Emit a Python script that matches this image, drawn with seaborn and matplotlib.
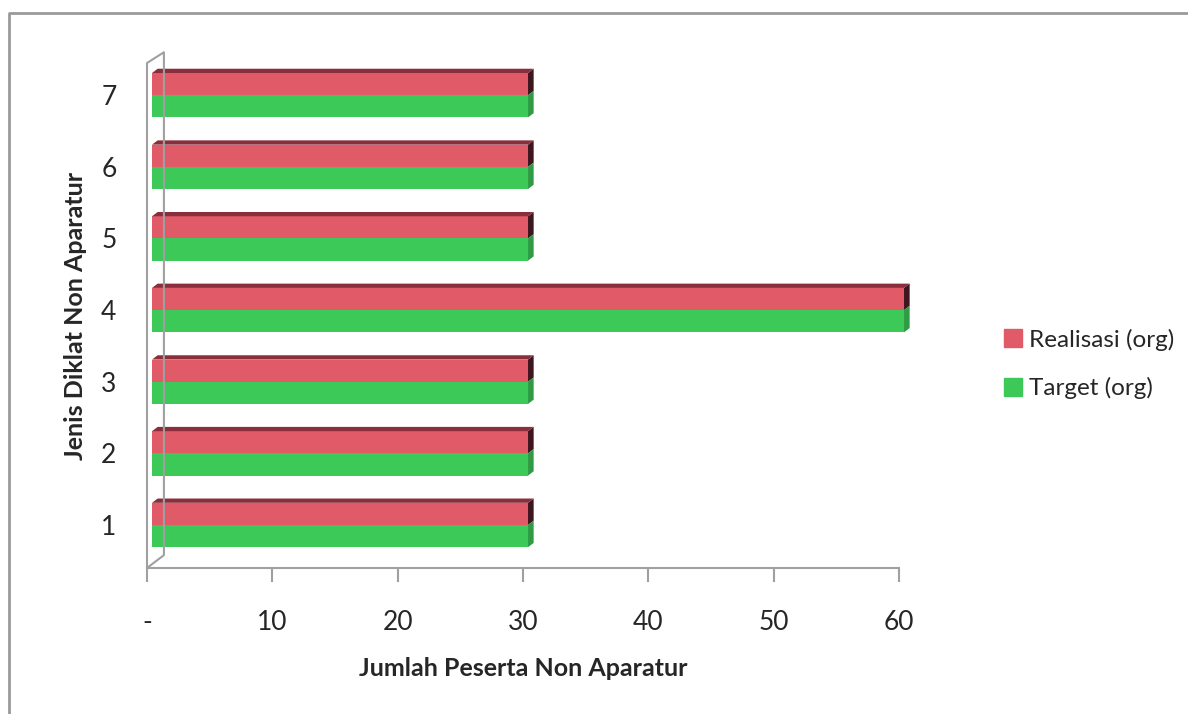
import pandas as pd
import matplotlib
matplotlib.use('Agg')
import matplotlib.pyplot as plt
import seaborn as sns
from matplotlib.patches import Polygon
from matplotlib.lines import Line2D

# data
categories = ['7', '6', '5', '4', '3', '2', '1']
realisasi = [30, 30, 30, 60, 30, 30, 30]
target = [30, 30, 30, 60, 30, 30, 30]
series_names = ['Realisasi (org)', 'Target (org)']
x_ticks = [0, 10, 20, 30, 40, 50, 60]
x_tick_labels = ['-', '10', '20', '30', '40', '50', '60']

df = pd.DataFrame({
    'Jenis': categories * 2,
    'Jumlah': realisasi + target,
    'Seri': [series_names[0]] * len(categories) + [series_names[1]] * len(categories),
})

sns.set_style('white')
plt.rcParams['font.family'] = ['Lato', 'DejaVu Sans']

red = '#E15A68'
green = '#3CC957'
palette = {series_names[0]: red, series_names[1]: green}

fig = plt.figure(figsize=(11.88, 7.14), dpi=100)
ax = fig.add_axes([147 / 1188, 1 - 568 / 714, (899 - 147) / 1188, (568 - 63) / 714])

sns.barplot(data=df, y='Jenis', x='Jumlah', hue='Seri', order=categories,
            hue_order=series_names, palette=palette, orient='h', width=0.62,
            saturation=1, linewidth=0, ax=ax, legend=False)

ax.set_xlim(0, 60)
ax.set_ylim(6.6, -0.45)

# fake 3D: top face on red bars, right face on all bars
dx, dy = 0.45, 0.06
for bar in ax.patches:
    x0, y0 = bar.get_x(), bar.get_y()
    w, h = bar.get_width(), bar.get_height()
    if w <= 0:
        continue
    # shift front face a bit right, like the wall depth in the original
    x0 = x0 + 0.4
    bar.set_x(x0)
    bar.set_clip_on(False)
    col = bar.get_facecolor()
    side = '#3e1620' if col[1] < 0.5 else '#2f9c45'
    ax.add_patch(Polygon([(x0 + w, y0), (x0 + w + dx, y0 - dy), (x0 + w + dx, y0 + h - dy),
                          (x0 + w, y0 + h)], closed=True, facecolor=side, lw=0, clip_on=False))
    if col[1] < 0.5:
        ax.add_patch(Polygon([(x0, y0), (x0 + dx, y0 - dy), (x0 + w + dx, y0 - dy), (x0 + w, y0)],
                             closed=True, facecolor='#8a2e3c', lw=0, clip_on=False))

# wall and floor lines
wall = '#a0a0a0'
for s in ['top', 'right', 'left']:
    ax.spines[s].set_visible(False)
ax.spines['bottom'].set_color(wall)
ax.spines['bottom'].set_linewidth(1.5)
ax.add_line(Line2D([0, 0, 1.35, 1.35, 0], [6.6, -0.45, -0.6, 6.42, 6.6],
                   color=wall, lw=1.5, clip_on=False))

ax.set_xticks(x_ticks)
ax.set_xticklabels(x_tick_labels, fontsize=19)
ax.tick_params(axis='x', length=10, width=1.5, color=wall, direction='out', pad=20, bottom=True)
ax.tick_params(axis='y', length=0, pad=22, labelsize=19)
ax.set_xlabel('Jumlah Peserta Non Aparatur', fontsize=18, fontweight='bold', labelpad=16)
ax.set_ylabel('Jenis Diklat Non Aparatur', fontsize=18, fontweight='bold', labelpad=10)

handles = [plt.Rectangle((0, 0), 1, 1, color=palette[n]) for n in series_names]
fig.legend(handles, series_names, loc='center left', bbox_to_anchor=(982 / 1188, 1 - 364 / 714),
           frameon=False, fontsize=17.5, handlelength=0.75, handleheight=0.75,
           handletextpad=0.3, labelspacing=1.1)

# outer frame of the chart
fig.add_artist(Line2D([9 / 1188, 9 / 1188, 1], [0, 1 - 13 / 714, 1 - 13 / 714],
                      color='#9a9a9a', lw=2, transform=fig.transFigure))

fig.savefig('out.png', dpi=100)
